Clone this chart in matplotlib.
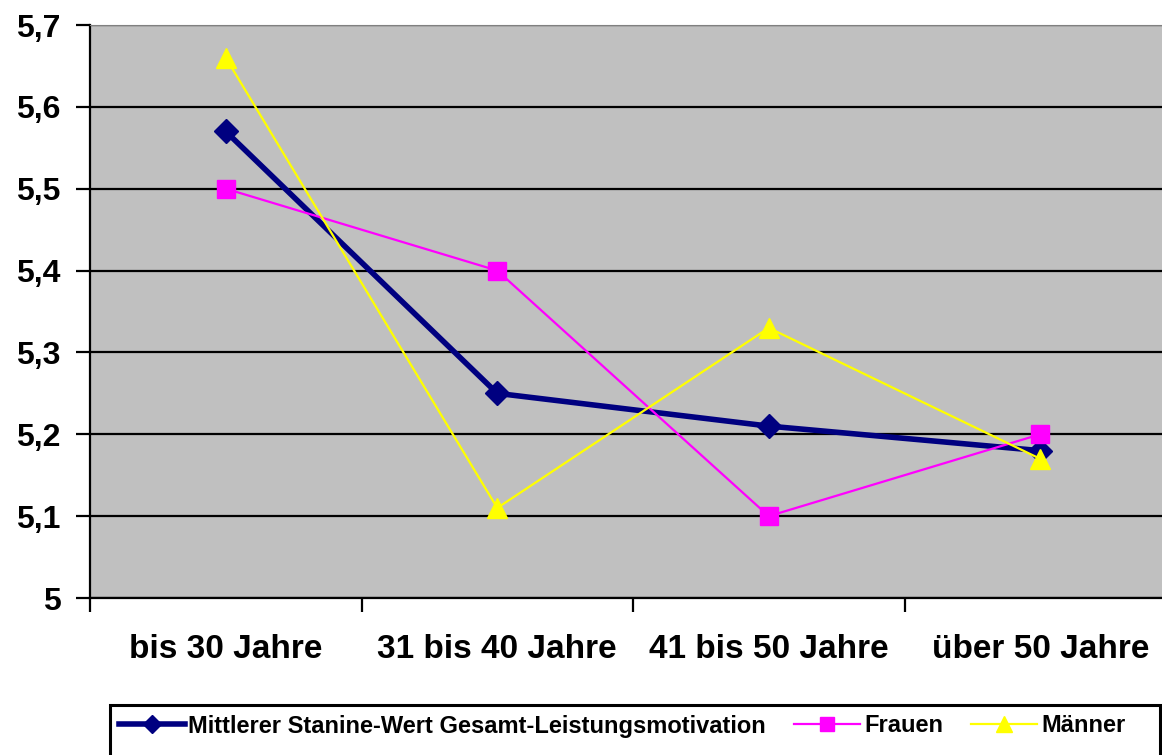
import matplotlib.pyplot as plt
from matplotlib.patches import Rectangle
import numpy as np

plt.rcParams['font.family'] = ['Liberation Sans', 'DejaVu Sans']

categories = ["bis 30 Jahre", "31 bis 40 Jahre", "41 bis 50 Jahre", "über 50 Jahre"]
gesamt = [5.57, 5.25, 5.21, 5.18]
frauen = [5.50, 5.40, 5.10, 5.20]
maenner = [5.66, 5.11, 5.33, 5.17]
y_ticks = [5.0, 5.1, 5.2, 5.3, 5.4, 5.5, 5.6, 5.7]
y_labels = ["5", "5,1", "5,2", "5,3", "5,4", "5,5", "5,6", "5,7"]

W, H = 1162, 755
fig = plt.figure(figsize=(W / 100, H / 100), dpi=100)
ax = fig.add_axes([90 / W, (H - 598) / H, (1176 - 90) / W, (598 - 25) / H])
ax.set_facecolor("#C0C0C0")

x = np.arange(len(categories))
l1, = ax.plot(x, gesamt, color="#000080", lw=4, marker="D", ms=12, zorder=3,
              label="Mittlerer Stanine-Wert Gesamt-Leistungsmotivation")
l2, = ax.plot(x, frauen, color="#FF00FF", lw=1.6, marker="s", ms=12.5, zorder=3,
              label="Frauen")
l3, = ax.plot(x, maenner, color="#FFFF00", lw=1.6, marker="^", ms=14, zorder=3,
              label="Männer")

ax.set_xlim(-0.5, 3.5)
ax.set_ylim(5.0, 5.7)
ax.set_yticks(y_ticks)
ax.set_yticklabels(y_labels, fontsize=23, fontweight="bold")
ax.yaxis.grid(True, color="black", lw=1.6)
ax.set_axisbelow(True)

ax.set_xticks(x)
ax.set_xticklabels(categories, fontsize=24, fontweight="bold")
ax.set_xticks(np.arange(-0.5, 3.6, 1), minor=True)
ax.tick_params(axis="x", which="major", length=0, pad=26)
ax.tick_params(axis="x", which="minor", length=10, width=1.6, direction="out")
ax.tick_params(axis="y", length=10, width=1.6, pad=11)

ax.spines["left"].set_linewidth(1.6)
ax.spines["bottom"].set_linewidth(1.6)
ax.spines["top"].set_color("#808080")
ax.spines["right"].set_visible(False)

# legend box runs off the bottom edge like in the original
fig.patches.append(Rectangle((110 / W, -10 / H), 1050 / W, (H - 705 + 10) / H,
                             transform=fig.transFigure, fill=False,
                             edgecolor="black", lw=2.2))
leg = fig.legend(handles=[l1, l2, l3], loc="center left",
                 bbox_to_anchor=(102 / W, (H - 726) / H), ncol=3,
                 prop={"weight": "bold", "size": 17}, frameon=False,
                 handlelength=2.8, handletextpad=0.15, columnspacing=1.2,
                 borderpad=0.2, markerscale=0.8)

fig.savefig("out.png", dpi=100)
